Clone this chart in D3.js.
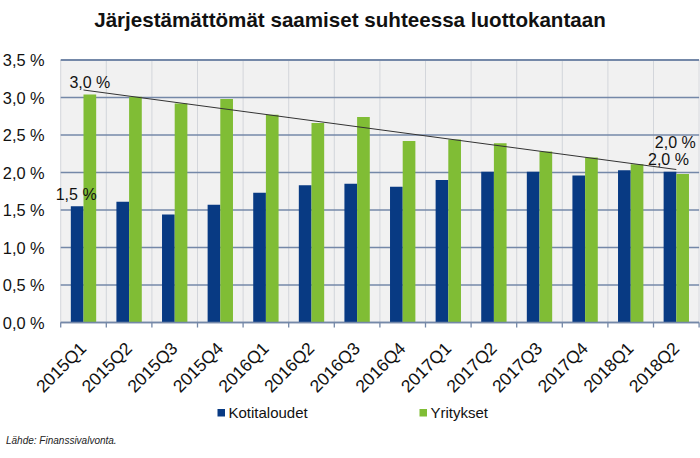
<!DOCTYPE html>
<html>
<head>
<meta charset="utf-8">
<script src="https://cdn.jsdelivr.net/npm/d3@7"></script>
<style>
  html, body { margin: 0; padding: 0; background: #fff; }
  svg { display: block; font-family: "Liberation Sans", Arial, sans-serif; }
</style>
</head>
<body>
<svg id="chart" width="700" height="458"></svg>
<script>
// ---- data ----
const title = "Järjestämättömät saamiset suhteessa luottokantaan";
const categories = ["2015Q1","2015Q2","2015Q3","2015Q4","2016Q1","2016Q2","2016Q3","2016Q4","2017Q1","2017Q2","2017Q3","2017Q4","2018Q1","2018Q2"];
const seriesNames = ["Kotitaloudet", "Yritykset"];
const kotitaloudet = [1.55, 1.61, 1.44, 1.57, 1.73, 1.83, 1.85, 1.81, 1.90, 2.01, 2.01, 1.96, 2.03, 2.01];
const yritykset    = [3.04, 3.01, 2.92, 2.98, 2.77, 2.66, 2.74, 2.42, 2.44, 2.39, 2.28, 2.20, 2.11, 1.98];
const trendStart = 3.10;   // value at 2015Q1
const trendEnd = 2.04;     // value at 2018Q2
const yTicks = [0, 0.5, 1.0, 1.5, 2.0, 2.5, 3.0, 3.5];
const annotationTexts = ["3,0 %", "1,5 %", "2,0 %", "2,0 %"];
const source = "Lähde: Finanssivalvonta.";

const colors = ["#083a83", "#80bd35"];

// ---- layout ----
const svg = d3.select("#chart");
const margin = { left: 60.7, right: 0.9, top: 60, bottom: 135.5 };
const W = 700, H = 458;
const plotW = W - margin.left - margin.right;
const plotH = H - margin.top - margin.bottom;

const x0 = d3.scaleBand().domain(categories).range([margin.left, margin.left + plotW]).padding(0);
const bw = x0.bandwidth();
const x1 = d3.scaleBand().domain(seriesNames).range([bw * 0.222, bw * 0.778]).padding(0);
const y = d3.scaleLinear().domain([0, 3.5]).range([margin.top + plotH, margin.top]);

const fmt = v => d3.format(".1f")(v).replace(".", ",") + " %";

// title
svg.append("text")
  .attr("x", 350).attr("y", 27)
  .attr("text-anchor", "middle")
  .attr("font-weight", "bold")
  .attr("font-size", 20.6)
  .attr("fill", "#111")
  .text(title);

// plot background
svg.append("rect")
  .attr("x", margin.left).attr("y", margin.top)
  .attr("width", plotW).attr("height", plotH)
  .attr("fill", "#f1f1f1");

// vertical grid (category boundaries)
const boundaries = categories.map(c => x0(c)).concat([margin.left + plotW]);
svg.append("g").selectAll("line").data(boundaries).join("line")
  .attr("x1", d => d).attr("x2", d => d)
  .attr("y1", margin.top).attr("y2", margin.top + plotH)
  .attr("stroke", "#d3d6db").attr("stroke-width", 1);

// horizontal grid
svg.append("g").selectAll("line").data(yTicks).join("line")
  .attr("x1", margin.left).attr("x2", margin.left + plotW)
  .attr("y1", d => y(d)).attr("y2", d => y(d))
  .attr("stroke", "#7488a8").attr("stroke-width", d => d === 3.5 ? 2 : 1.3);

// y axis labels
const yAxis = d3.axisLeft(y).tickValues(yTicks).tickSize(0).tickPadding(16).tickFormat(fmt);
const gy = svg.append("g").attr("transform", `translate(${margin.left},0)`).call(yAxis);
gy.select(".domain").remove();
gy.selectAll("text")
  .attr("font-family", "Liberation Sans, Arial, sans-serif")
  .attr("font-size", 16.4).attr("fill", "#111")
  .attr("dy", "0.35em");

// bars
const data = categories.map((c, i) => ({ cat: c, vals: [kotitaloudet[i], yritykset[i]] }));
const groups = svg.append("g").selectAll("g").data(data).join("g")
  .attr("transform", d => `translate(${x0(d.cat)},0)`);
groups.selectAll("rect").data(d => d.vals.map((v, j) => ({ name: seriesNames[j], v, j }))).join("rect")
  .attr("x", d => x1(d.name))
  .attr("width", x1.bandwidth())
  .attr("y", d => y(d.v))
  .attr("height", d => y(0) - y(d.v))
  .attr("fill", d => colors[d.j]);

// x axis line & ticks
svg.append("line")
  .attr("x1", margin.left).attr("x2", margin.left + plotW)
  .attr("y1", y(0)).attr("y2", y(0))
  .attr("stroke", "#7488a8").attr("stroke-width", 1.3);
svg.append("g").selectAll("line").data(boundaries).join("line")
  .attr("x1", d => d).attr("x2", d => d)
  .attr("y1", y(0)).attr("y2", y(0) + 5)
  .attr("stroke", "#7488a8").attr("stroke-width", 1.3);

// x labels
svg.append("g").selectAll("text").data(categories).join("text")
  .attr("transform", d => `translate(${x0(d) + bw / 2 + 4},${y(0) + 27}) rotate(-45)`)
  .attr("text-anchor", "end")
  .attr("font-size", 17.5).attr("fill", "#111")
  .text(d => d);

// trend line
const first = categories[0], last = categories[categories.length - 1];
svg.append("line")
  .attr("x1", x0(first) + bw / 2).attr("y1", y(trendStart))
  .attr("x2", x0(last) + bw / 2).attr("y2", y(trendEnd))
  .attr("stroke", "#333").attr("stroke-width", 1);

// annotations
const annotations = [
  { text: annotationTexts[0], cx: x0(first) + x1("Yritykset") + x1.bandwidth() / 2, cy: y(yritykset[0]) - 6.5 },
  { text: annotationTexts[1], cx: x0(first) + x1("Kotitaloudet") + x1.bandwidth() / 2 - 1, cy: y(kotitaloudet[0]) - 6 },
  { text: annotationTexts[2], cx: x0(last) + bw / 2 - 1, cy: y(trendEnd) - 22 },
  { text: annotationTexts[3], cx: x0(last) + x1("Kotitaloudet") + x1.bandwidth() / 2 - 1.5, cy: y(kotitaloudet[13]) - 7 }
];
svg.append("g").selectAll("text").data(annotations).join("text")
  .attr("x", d => d.cx).attr("y", d => d.cy)
  .attr("text-anchor", "middle")
  .attr("font-size", 16).attr("fill", "#111")
  .text(d => d.text);

// legend
const legendX = [217.5, 419.5];
const leg = svg.append("g").selectAll("g").data(seriesNames).join("g")
  .attr("transform", (d, i) => `translate(${legendX[i]},409)`);
leg.append("rect").attr("width", 7.5).attr("height", 7.5).attr("fill", (d, i) => colors[i]);
leg.append("text").attr("x", 11).attr("y", 8.8)
  .attr("font-size", 15).attr("fill", "#111").text(d => d);

// source
svg.append("text")
  .attr("x", 6).attr("y", 444)
  .attr("font-size", 10).attr("font-style", "italic").attr("fill", "#222")
  .text(source);
</script>
</body>
</html>
